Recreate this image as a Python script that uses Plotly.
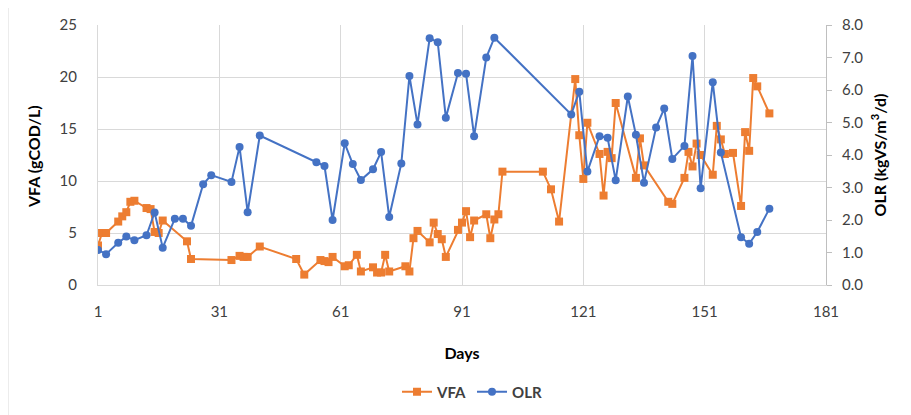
import plotly.graph_objects as go

vfa_days = [1, 2, 3, 6, 7, 8, 9, 10, 13, 14, 15, 16, 17, 23, 24, 34, 36, 37, 38, 41,
            50, 52, 56, 57, 58, 59, 62, 63, 65, 66, 69, 70, 71, 72, 73, 77, 78, 79, 80,
            83, 84, 85, 86, 87, 90, 91, 92, 93, 94, 97, 98, 99, 100, 101, 111, 113, 115,
            119, 120, 121, 122, 125, 126, 127, 128, 129, 134, 135, 136, 142, 143, 146,
            147, 148, 149, 150, 153, 154, 155, 156, 158, 160, 161, 162, 163, 164, 167]
vfa_values = [3.8, 5.0, 5.0, 6.1, 6.6, 7.0, 8.0, 8.1, 7.4, 7.3, 5.1, 5.0, 6.2, 4.2, 2.5,
              2.4, 2.8, 2.7, 2.7, 3.7, 2.5, 1.0, 2.4, 2.3, 2.2, 2.7, 1.8, 1.9, 2.9, 1.3,
              1.7, 1.2, 1.2, 2.9, 1.3, 1.8, 1.3, 4.5, 5.2, 4.1, 6.0, 4.9, 4.4, 2.7, 5.3,
              6.0, 7.1, 4.6, 6.2, 6.8, 4.5, 6.3, 6.8, 10.9, 10.9, 9.2, 6.1, 19.8, 14.4,
              10.2, 15.6, 12.6, 8.6, 12.8, 12.2, 17.5, 10.3, 14.1, 11.5, 8.0, 7.8, 10.3,
              12.8, 11.4, 13.6, 12.5, 10.6, 15.3, 14.0, 12.6, 12.7, 7.6, 14.7, 12.9, 19.9,
              19.1, 16.5]

olr_days = [1, 3, 6, 8, 10, 13, 15, 17, 20, 22, 24, 27, 29, 34, 36, 38, 41, 55, 57, 59,
            62, 64, 66, 69, 71, 73, 76, 78, 80, 83, 85, 87, 90, 92, 94, 97, 99, 118, 120,
            122, 125, 127, 129, 132, 134, 136, 139, 141, 143, 146, 148, 150, 153, 155,
            160, 162, 164, 167]
olr_values = [1.08, 0.95, 1.30, 1.49, 1.38, 1.53, 2.23, 1.15, 2.04, 2.04, 1.82, 3.10,
              3.38, 3.17, 4.25, 2.24, 4.60, 3.78, 3.66, 2.00, 4.36, 3.72, 3.23, 3.56,
              4.09, 2.09, 3.74, 6.43, 4.94, 7.59, 7.47, 5.15, 6.52, 6.50, 4.58, 7.00,
              7.61, 5.25, 5.95, 3.49, 4.58, 4.53, 3.22, 5.80, 4.62, 3.15, 4.85, 5.43,
              3.88, 4.28, 7.05, 2.98, 6.24, 4.08, 1.47, 1.27, 1.63, 2.35]

x_ticks = [1, 31, 61, 91, 121, 151, 181]

ORANGE = "#ED7D31"
BLUE = "#4472C4"
GRID = "#D9D9D9"
FONT = "Lato"

fig = go.Figure()
fig.add_trace(go.Scatter(
    x=vfa_days, y=vfa_values, name="VFA", mode="lines+markers",
    line=dict(color=ORANGE, width=2),
    marker=dict(symbol="square", size=8, color=ORANGE),
    yaxis="y"))
fig.add_trace(go.Scatter(
    x=olr_days, y=olr_values, name="OLR", mode="lines+markers",
    line=dict(color=BLUE, width=2),
    marker=dict(symbol="circle", size=8, color=BLUE),
    yaxis="y2"))

# page body adds an ~8px offset; compensate
OFF = 8
W, H = 911, 415
L, T = 98 - OFF, 25 - OFF
pw, ph = 728, 260
R = W - L - pw
B = H - T - ph

def px_x(px):  # screen px -> paper
    return (px - OFF - L) / pw

def px_y(py):
    return (T + ph - (py - OFF)) / ph

fig.update_layout(
    width=W, height=H,
    margin=dict(l=L, r=R, t=T, b=B, autoexpand=False),
    paper_bgcolor="white", plot_bgcolor="white",
    font=dict(family=FONT, size=15, color="#404040"),
    showlegend=True,
    legend=dict(orientation="h", x=px_x(472), xanchor="center", y=px_y(392), yanchor="middle",
                font=dict(family=FONT, size=15, color="#404040", weight="bold"),
                itemwidth=30, tracegroupgap=0),
    xaxis=dict(
        range=[1, 181], tickvals=x_ticks, ticktext=[str(v) for v in x_ticks],
        showgrid=True, gridcolor=GRID, gridwidth=1,
        showline=True, linecolor=GRID, linewidth=1, ticks="",
        zeroline=False, automargin=False, ticklabelstandoff=13,
        tickfont=dict(family=FONT, size=15, color="#404040"),
        title=dict(text="<b>Days</b>", font=dict(family=FONT, size=16, color="black"), standoff=28),
    ),
    yaxis=dict(
        range=[0, 25], dtick=5, tick0=0,
        showgrid=True, gridcolor=GRID, gridwidth=1,
        showline=True, linecolor=GRID, linewidth=1, ticks="",
        zeroline=False, automargin=False, ticklabelstandoff=17,
        tickfont=dict(family=FONT, size=15, color="#404040"),
    ),
    yaxis2=dict(
        range=[0, 8], dtick=1, tick0=0, tickformat=".1f",
        overlaying="y", side="right",
        showgrid=False, showline=True, linecolor="#BFBFBF", linewidth=1,
        ticks="outside", ticklen=5, tickcolor="#BFBFBF",
        zeroline=False, automargin=False, ticklabelstandoff=7,
        tickfont=dict(family=FONT, size=15, color="#404040"),
        title=dict(text="<b>OLR (kgVS/m<sup>3</sup>/d)</b>", font=dict(family=FONT, size=16, color="black"), standoff=12),
    ),
    annotations=[dict(text="<b>VFA (gCOD/L)</b>", xref="paper", yref="paper",
                      x=px_x(33), y=px_y(157), xanchor="center", yanchor="middle",
                      textangle=-90, showarrow=False,
                      font=dict(family=FONT, size=16, color="black"))],
    shapes=[dict(type="rect", xref="paper", yref="paper",
                 x0=px_x(8), x1=px_x(940), y0=px_y(440), y1=px_y(6),
                 line=dict(color="#D9D9D9", width=1), fillcolor="rgba(0,0,0,0)", layer="below")],
)

fig.write_html("out.html")
